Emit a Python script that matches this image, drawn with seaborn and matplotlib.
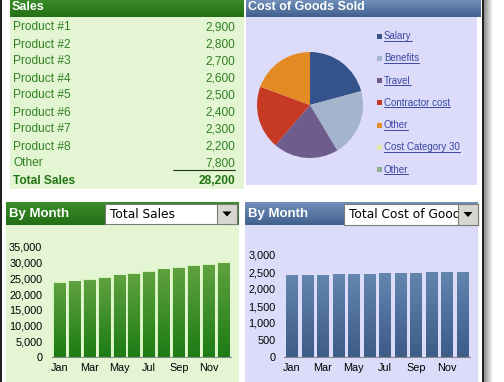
import numpy as np
import pandas as pd
import matplotlib
matplotlib.use('Agg')
import matplotlib.pyplot as plt
import matplotlib.colors as mcolors
import seaborn as sns
from matplotlib.patches import Rectangle, Polygon

# data
products = ['Product #1', 'Product #2', 'Product #3', 'Product #4', 'Product #5',
            'Product #6', 'Product #7', 'Product #8', 'Other']
product_sales = [2900, 2800, 2700, 2600, 2500, 2400, 2300, 2200, 7800]

cost_items = ['Salary', 'Benefits', 'Travel', 'Contractor cost', 'Other',
              'Cost Category 30', 'Other']
cost_share = [20.8, 20.6, 19.9, 19.3, 19.4, 0, 0]
cost_colors = ['#34538A', '#A3B4CC', '#6E5D8C', '#C63A24', '#E48A25',
               '#E8E8A8', '#8CB08C']

months = ['Jan', 'Feb', 'Mar', 'Apr', 'May', 'Jun',
          'Jul', 'Aug', 'Sep', 'Oct', 'Nov', 'Dec']
month_labels = ['Jan', '', 'Mar', '', 'May', '', 'Jul', '', 'Sep', '', 'Nov', '']
monthly_sales = [23500, 23900, 24500, 25100, 25800, 26400,
                 27000, 27700, 28300, 28900, 29200, 29900]
monthly_cogs = [2400, 2390, 2400, 2430, 2430, 2430,
                2450, 2450, 2450, 2500, 2500, 2500]

sns.set_theme(style='white')
plt.rcParams['font.family'] = ['Liberation Sans', 'DejaVu Sans']

W, H = 504, 382
GREEN_BG = '#E4F5D4'
BLUE_BG = '#DCDCFA'
GREEN_TXT = '#2F8020'

fig = plt.figure(figsize=(W / 100, H / 100), dpi=100)
fig.patch.set_facecolor('white')

# full-figure axes in pixel coordinates for panels and text
bg = fig.add_axes([0, 0, 1, 1])
bg.set_xlim(0, W)
bg.set_ylim(H, 0)
bg.axis('off')


def px_axes(x0, y0, x1, y1):
    return fig.add_axes([x0 / W, 1 - y1 / H, (x1 - x0) / W, (y1 - y0) / H])


def grad_img(c_top, c_bot, n=64):
    a = np.array(mcolors.to_rgb(c_top))
    b = np.array(mcolors.to_rgb(c_bot))
    t = np.linspace(0, 1, n)[:, None, None]
    return a * (1 - t) + b * t


def header(x0, x1, y0, y1, c_top, c_bot):
    bg.imshow(grad_img(c_top, c_bot), extent=(x0, x1, y1, y0), origin='upper',
              aspect='auto', zorder=1)


def box(x0, x1, y0, y1, color, **kw):
    bg.add_patch(Rectangle((x0, y0), x1 - x0, y1 - y0, facecolor=color, **kw))


# panel backgrounds
box(10, 244, 17, 189, GREEN_BG, edgecolor='none', zorder=0)
header(10, 244, 0, 17, '#3A8C28', '#236F16')
box(246, 477, 17, 185, BLUE_BG, edgecolor='none', zorder=0)
header(246, 481, 0, 17, '#7090BA', '#41608E')
box(6, 239, 225, 382, GREEN_BG, edgecolor='none', zorder=0)
header(6, 239, 202, 225, '#3A8C28', '#236F16')
box(245, 478, 225, 382, BLUE_BG, edgecolor='none', zorder=0)
header(245, 478, 202, 225, '#7090BA', '#41608E')

# window border and shadow
box(0, 1.5, 0, H, '#202020', edgecolor='none', zorder=2)
box(482, 484, 0, H, '#202020', edgecolor='none', zorder=2)
bg.imshow(grad_img('#8A8A8A', '#FFFFFF').transpose(1, 0, 2), extent=(484, 493, H, 0),
          origin='upper', aspect='auto', zorder=1)
bg.set_xlim(0, W)
bg.set_ylim(H, 0)

# headers text
bg.text(12, 7.5, 'Sales', color='white', fontsize=9, fontweight='bold', va='center', zorder=3)
bg.text(248, 7.5, 'Cost of Goods Sold', color='white', fontsize=9, fontweight='bold',
        va='center', zorder=3)
bg.text(9, 214, 'By Month', color='white', fontsize=9.5, fontweight='bold', va='center', zorder=3)
bg.text(248, 214, 'By Month', color='white', fontsize=9.5, fontweight='bold', va='center', zorder=3)


# dropdowns
def dropdown(x0, x1, y0, y1, label):
    box(x0, x1, y0, y1, 'white', edgecolor='#7A7A7A', linewidth=0.8, zorder=3)
    clip = Rectangle((x0, y0), x1 - 20 - x0, y1 - y0, transform=bg.transData)
    t = bg.text(x0 + 5, (y0 + y1) / 2 + 0.5, label, fontsize=8.8, color='black',
                family='DejaVu Sans', va='center', zorder=4)
    t.set_clip_path(clip)
    t.set_clip_on(True)
    box(x1 - 20, x1, y0, y1, '#D8D6D0', edgecolor='#7A7A7A', linewidth=0.8, zorder=5)
    cx, cy = x1 - 10, (y0 + y1) / 2
    bg.add_patch(Polygon([(cx - 4.5, cy - 2.5), (cx + 4.5, cy - 2.5), (cx, cy + 2.5)],
                         facecolor='black', edgecolor='none', zorder=6))


dropdown(105, 237, 204, 224, 'Total Sales')
dropdown(344, 478, 204, 225, 'Total Cost of Goods Sold')

# sales table
for i, (name, val) in enumerate(zip(products, product_sales)):
    y = 27.5 + 17 * i
    bg.text(13, y, name, color=GREEN_TXT, fontsize=8.6, va='center', zorder=3)
    bg.text(235, y, f'{val:,}', color=GREEN_TXT, fontsize=8.6, va='center', ha='right', zorder=3)
bg.plot([173, 235], [170, 170], color='#1E3A10', lw=0.8, zorder=3)
bg.text(13, 181, 'Total Sales', color='#217414', fontsize=8.6, fontweight='bold',
        va='center', zorder=3)
bg.text(235, 181, f'{sum(product_sales):,}', color='#217414', fontsize=8.6,
        fontweight='bold', va='center', ha='right', zorder=3)

# cost of goods pie
pie_ax = px_axes(257, 52, 363, 158)
shares = [s for s in cost_share if s > 0]
pie_ax.pie(shares, colors=cost_colors[:len(shares)], startangle=90, counterclock=False,
           wedgeprops=dict(edgecolor='none'))
pie_ax.set_xlim(-1, 1)
pie_ax.set_ylim(-1, 1)
pie_ax.set_aspect('equal')

legend_texts = []
for i, (name, col) in enumerate(zip(cost_items, cost_colors)):
    y = 36 + 22.3 * i
    box(376.5, 381.5, y - 2.5, y + 2.5, col, edgecolor='none', zorder=3)
    legend_texts.append(bg.text(384, y, name, color='#3A48A0', fontsize=7, va='center', zorder=3))


# monthly bar charts
def bar_chart(ax, values, c_top, c_bot, edge, width, ymax, step, pad):
    df = pd.DataFrame({'month': months, 'value': values})
    sns.barplot(data=df, x='month', y='value', ax=ax, color=c_bot, width=width,
                saturation=1, edgecolor=edge, linewidth=1.2)
    for p in ax.patches:
        x, w, h = p.get_x(), p.get_width(), p.get_height()
        ax.imshow(grad_img(c_top, c_bot), extent=(x, x + w, 0, h), origin='upper',
                  aspect='auto', zorder=3)
    ax.set_xlim(-0.5, len(months) - 0.5)
    ax.set_ylim(0, ymax)
    ax.set_facecolor('none')
    ax.set_xlabel('')
    ax.set_ylabel('')
    ax.set_xticks(range(len(months)))
    ax.set_xticklabels(month_labels)
    ax.set_yticks(np.arange(0, ymax + 1, step))
    ax.yaxis.set_major_formatter(matplotlib.ticker.StrMethodFormatter('{x:,.0f}'))
    ax.tick_params(axis='both', length=0, labelsize=7.8, colors='black')
    ax.tick_params(axis='y', pad=pad)
    ax.tick_params(axis='x', pad=4)
    for s in ['top', 'right', 'left']:
        ax.spines[s].set_visible(False)
    ax.spines['bottom'].set_color('#8A8A8A')
    ax.spines['bottom'].set_linewidth(0.8)
    ax.spines['bottom'].set_zorder(4)


sales_ax = px_axes(52, 247, 231, 357)
bar_chart(sales_ax, monthly_sales, '#5FA23F', '#1D7B15', '#C9F2AE', 0.75, 35000, 5000, 7)

cogs_ax = px_axes(284, 255, 470, 357)
bar_chart(cogs_ax, monthly_cogs, '#6385AE', '#3D5C88', '#D8E0FA', 0.72, 3000, 500, 6)

# underline the legend entries like hyperlinks
fig.canvas.draw()
renderer = fig.canvas.get_renderer()
for t in legend_texts:
    bb = t.get_window_extent(renderer)
    yy = H - bb.y0 - 0.5
    bg.plot([bb.x0, bb.x1], [yy, yy], color='#3A48A0', lw=0.7, zorder=3)
bg.set_xlim(0, W)
bg.set_ylim(H, 0)

fig.savefig('out.png', dpi=100, facecolor='white')
